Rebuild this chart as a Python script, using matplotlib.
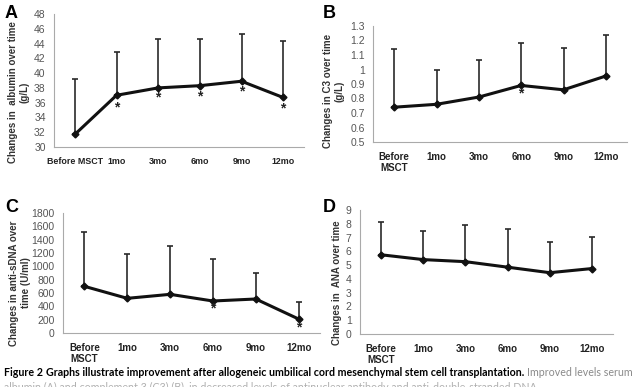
import matplotlib
matplotlib.use("Agg")
import matplotlib.pyplot as plt

plt.rcParams['font.family'] = ['Liberation Sans', 'DejaVu Sans']

cats_a = ["Before MSCT", "1mo", "3mo", "6mo", "9mo", "12mo"]
cats = ["Before\nMSCT", "1mo", "3mo", "6mo", "9mo", "12mo"]

alb_mean = [31.7, 37.0, 38.0, 38.3, 38.9, 36.7]
alb_top = [39.2, 42.8, 44.6, 44.6, 45.3, 44.4]
alb_star = [None, 35.4, 36.7, 36.8, 37.5, 35.2]

c3_mean = [0.74, 0.76, 0.81, 0.89, 0.86, 0.955]
c3_top = [1.14, 1.0, 1.065, 1.18, 1.145, 1.235]
c3_star = [None, None, None, 0.835, None, None]

dna_mean = [700, 520, 580, 480, 510, 210]
dna_top = [1520, 1190, 1300, 1110, 900, 460]
dna_star = [None, None, None, 370, None, 90]

ana_mean = [5.75, 5.4, 5.25, 4.85, 4.45, 4.75]
ana_top = [8.1, 7.45, 7.9, 7.65, 6.65, 7.05]
ana_star = [None] * 6

cap_fig = "Figure 2"
cap_bold = "Graphs illustrate improvement after allogeneic umbilical cord mesenchymal stem cell transplantation."
cap_gray = "Improved levels serum"
cap_line2 = "albumin (A) and complement 3 (C3) (B), in decreased levels of antinuclear antibody and anti-double-stranded DNA"

W, H = 640, 387
fig = plt.figure(figsize=(W / 100, H / 100), dpi=100)


def px_axes(l, r, t, b):
    return fig.add_axes([l / W, 1 - b / H, (r - l) / W, (b - t) / H]), (l, r, t, b)


def panel(axbox, labels, mean, top, stars, ylim, yticks, ytl, ylabel, lab_px, xfs=7.0):
    ax, (l, r, t, b) = axbox
    x = list(range(len(labels)))
    err = [tp - m for tp, m in zip(top, mean)]
    ax.errorbar(x, mean, yerr=[[0] * len(err), err], fmt='none',
                ecolor='#2a2a2a', elinewidth=1.2, capsize=2.5, capthick=1.2, zorder=2)
    ax.plot(x, mean, color='#111111', lw=2.2, marker='D', ms=3.5, zorder=3)
    for xi, s in zip(x, stars):
        if s is not None:
            ax.text(xi, s, '*', ha='center', va='center', fontsize=10,
                    fontweight='bold', color='#222222')
    ax.set_xlim(-0.5, len(labels) - 0.5)
    ax.set_ylim(*ylim)
    ax.set_yticks(yticks)
    ax.set_yticklabels(ytl)
    ax.set_xticks(x)
    ax.set_xticklabels(labels, fontweight='bold', fontsize=xfs, color='#222222',
                       linespacing=1.2)
    ax.tick_params(axis='both', length=0)
    ax.tick_params(axis='y', labelsize=7.5, labelcolor='#555555', pad=6)
    ax.tick_params(axis='x', pad=7)
    for sp in ['top', 'right']:
        ax.spines[sp].set_visible(False)
    for sp in ['left', 'bottom']:
        ax.spines[sp].set_color('#aaaaaa')
        ax.spines[sp].set_linewidth(0.8)
    ax.set_ylabel(ylabel, fontweight='bold', fontsize=7.0, color='#333333',
                  linespacing=1.15, ha='center', va='center', multialignment='center')
    lx, ly = lab_px
    ax.yaxis.set_label_coords((lx - l) / (r - l), (b - ly) / (b - t))


axA = px_axes(54, 304, 14, 147)
panel(axA, cats_a, alb_mean, alb_top, alb_star, (30, 48), list(range(30, 49, 2)),
      [str(v) for v in range(30, 49, 2)], "Changes in  albumin over time\n(g/L)",
      (19, 92), xfs=6.4)

axB = px_axes(373, 627, 26, 142)
c3_ticks = [0.5, 0.6, 0.7, 0.8, 0.9, 1.0, 1.1, 1.2, 1.3]
c3_tl = ["0.5", "0.6", "0.7", "0.8", "0.9", "1", "1.1", "1.2", "1.3"]
panel(axB, cats, c3_mean, c3_top, c3_star, (0.5, 1.3), c3_ticks, c3_tl,
      "Changes in C3 over time\n(g/L)", (334, 91))

axC = px_axes(63, 320, 213, 333)
dna_ticks = list(range(0, 1801, 200))
panel(axC, cats, dna_mean, dna_top, dna_star, (0, 1800), dna_ticks,
      [str(v) for v in dna_ticks], "Changes in anti-sDNA over\ntime (U/ml)", (20, 283))

axD = px_axes(360, 613, 210, 334)
ana_ticks = list(range(0, 10))
panel(axD, cats, ana_mean, ana_top, ana_star, (0, 9), ana_ticks,
      [str(v) for v in ana_ticks], "Changes in  ANA over time", (337, 283))

for lab, (x, y) in zip("ABCD", [(5, 14), (323, 13), (5, 208), (323, 208)]):
    fig.text(x / W, 1 - y / H, lab, fontsize=13, fontweight='bold', ha='left', va='center')

# caption: one font size for the whole line, scaled so the line spans the same width as in the reference
cap_fam = ['Lato', 'DejaVu Sans']
cap_y = 1 - 373 / H
fig.canvas.draw()
rnd = fig.canvas.get_renderer()
pieces = [(cap_fig, dict(fontweight='bold', color='black')),
          (cap_bold, dict(fontweight='bold', color='black')),
          (cap_gray, dict(color='#8a8a8a'))]
gap = 3


def layout(fs):
    texts = []
    x = 4
    for s, kw in pieces:
        t = fig.text(x / W, cap_y, s, fontsize=fs, family=cap_fam, va='center', ha='left', **kw)
        x = t.get_window_extent(rnd).x1 + gap
        texts.append(t)
    return texts, x - gap


texts, xend = layout(7.0)
fs = 7.0 * (637 - 4 - 2 * gap) / (xend - 4 - 2 * gap)
for t in texts:
    t.remove()
texts, xend = layout(fs)

fig.text(4 / W, 1 - 387 / H, cap_line2, fontsize=fs, family=cap_fam,
         color='#b0b0b0', va='center', ha='left')

fig.savefig("out.png", dpi=100, facecolor='white')
